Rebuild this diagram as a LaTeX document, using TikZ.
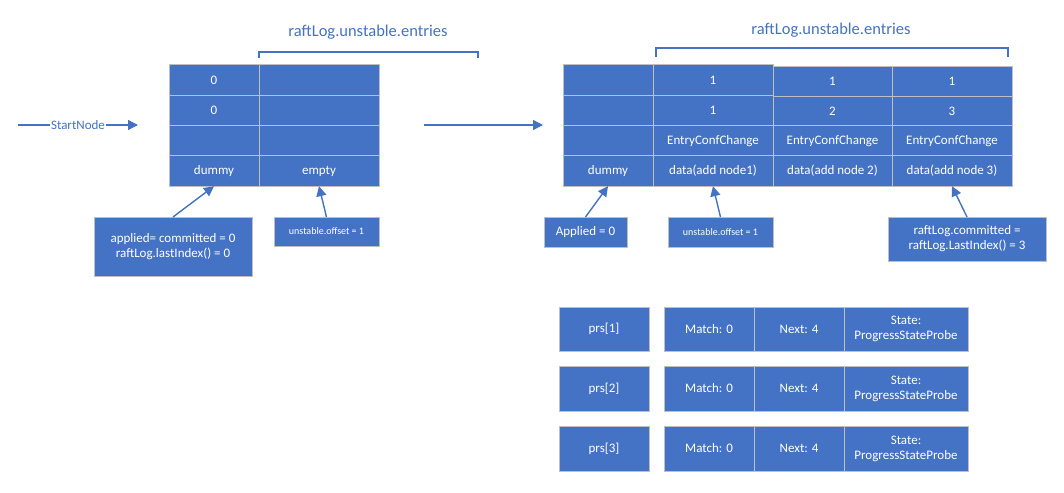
\documentclass[tikz,border=0pt]{standalone}
\usepackage{fontspec}
\setmainfont{Carlito}
\usetikzlibrary{arrows.meta}
\definecolor{oblue}{HTML}{4472C4}
\definecolor{ogray}{HTML}{BFBFBF}
\begin{document}
\begin{tikzpicture}[x=1pt,y=-1pt,
  cell/.style={draw=ogray,fill=oblue,line width=1pt,text=white,inner sep=0pt,outer sep=0pt,font=\fontsize{13}{15}\selectfont,align=center},
  arr/.style={draw=oblue,line width=1.4pt,-{Triangle[length=10pt,width=10pt]}},
  brk/.style={draw=oblue,line width=1.2pt},
  ttl/.style={text=oblue,font=\fontsize{16.5}{19}\selectfont},
  small/.style={font=\fontsize{10}{12}\selectfont}]
\useasboundingbox (0,0) rectangle (1064,492);
% ---------- left table ----------
\node[cell,minimum width=90pt,minimum height=30.3pt] (La1) at (214,80.15) {0};
\node[cell,minimum width=120pt,minimum height=30.3pt] (Lb1) at (319,80.15) {};
\node[cell,minimum width=90pt,minimum height=30.3pt] (La2) at (214,110.45) {0};
\node[cell,minimum width=120pt,minimum height=30.3pt] (Lb2) at (319,110.45) {};
\node[cell,minimum width=90pt,minimum height=30.3pt] (La3) at (214,140.75) {};
\node[cell,minimum width=120pt,minimum height=30.3pt] (Lb3) at (319,140.75) {};
\node[cell,minimum width=90pt,minimum height=30.3pt] (La4) at (214,171.05) {dummy};
\node[cell,minimum width=120pt,minimum height=30.3pt] (Lb4) at (319,171.05) {empty};
% bracket + title left
\coordinate (lb0) at (259,58); \coordinate (lb1) at (259,52);
\coordinate (lb2) at (478,52); \coordinate (lb3) at (478,58);
\draw[brk] (lb0) -- (lb1) -- (lb2) -- (lb3);
\node[ttl] (Ltitle) at (368,32) {raftLog.unstable.entries};
% info boxes left
\node[cell,minimum width=158pt,minimum height=59pt] (Lapp) at (173,246.5) {applied= committed = 0\\raftLog.lastIndex() = 0};
\node[cell,small,minimum width=105pt,minimum height=29pt] (Loff) at (326.5,231.5) {unstable.offset = 1};
\draw[arr] (Lapp.north) -- (La4.south);
\draw[arr] (Loff.north) -- (Lb4.south);
% StartNode arrow
\coordinate (sn0) at (18,125); \coordinate (sn1) at (138,125);
\draw[arr] (sn0) -- node[fill=white,inner sep=1pt,text=oblue,font=\fontsize{13}{15}\selectfont] (snlab) {StartNode} (sn1);
% middle arrow
\coordinate (m0) at (424,125); \coordinate (m1) at (543,125);
\draw[arr] (m0) -- (m1);
% ---------- right table ----------
\node[cell,minimum width=90pt,minimum height=30.3pt] (Ra1) at (608,80.15) {};
\node[cell,minimum width=120pt,minimum height=30.3pt] (Rb1) at (713,80.15) {1};
\node[cell,minimum width=119pt,minimum height=29.3pt] (Rc1) at (832.5,81.65) {1};
\node[cell,minimum width=120pt,minimum height=29.3pt] (Rd1) at (952,81.65) {1};
\node[cell,minimum width=90pt,minimum height=30.3pt] (Ra2) at (608,110.45) {};
\node[cell,minimum width=120pt,minimum height=30.3pt] (Rb2) at (713,110.45) {1};
\node[cell,minimum width=119pt,minimum height=29.7pt] (Rc2) at (832.5,111.15) {2};
\node[cell,minimum width=120pt,minimum height=29.7pt] (Rd2) at (952,111.15) {3};
\node[cell,minimum width=90pt,minimum height=30.3pt] (Ra3) at (608,140.75) {};
\node[cell,minimum width=120pt,minimum height=30.3pt] (Rb3) at (713,140.75) {EntryConfChange};
\node[cell,minimum width=119pt,minimum height=30.3pt] (Rc3) at (832.5,140.75) {EntryConfChange};
\node[cell,minimum width=120pt,minimum height=30.3pt] (Rd3) at (952,140.75) {EntryConfChange};
\node[cell,minimum width=90pt,minimum height=30.3pt] (Ra4) at (608,171.05) {dummy};
\node[cell,minimum width=120pt,minimum height=30.3pt] (Rb4) at (713,171.05) {data(add node1)};
\node[cell,minimum width=119pt,minimum height=30.3pt] (Rc4) at (832.5,171.05) {data(add node 2)};
\node[cell,minimum width=120pt,minimum height=30.3pt] (Rd4) at (952,171.05) {data(add node 3)};
% bracket + title right
\coordinate (rb0) at (656,57); \coordinate (rb1) at (656,48);
\coordinate (rb2) at (1008,48); \coordinate (rb3) at (1008,57);
\draw[brk] (rb0) -- (rb1) -- (rb2) -- (rb3);
\node[ttl] (Rtitle) at (831,30) {raftLog.unstable.entries};
% info boxes right
\node[cell,minimum width=83pt,minimum height=30pt] (Rapp) at (585.5,232) {Applied = 0};
\node[cell,small,minimum width=105pt,minimum height=30pt] (Roff) at (720.5,232) {unstable.offset = 1};
\node[cell,minimum width=158pt,minimum height=44pt] (Rcom) at (967,239) {raftLog.committed =\\raftLog.LastIndex() = 3};
\draw[arr] (Rapp.north) -- (Ra4.south);
\draw[arr] (Roff.north) -- (Rb4.south);
\draw[arr] (Rcom.north) -- (Rd4.south);
% ---------- progress rows ----------
\foreach \i/\yc/\h in {1/329/44,2/388.5/45,3/448.5/45}{
  \node[cell,minimum width=90pt,minimum height=\h pt] (prs\i) at (604,\yc) {prs[\i]};
  \node[cell,minimum width=90pt,minimum height=\h pt] (match\i) at (709,\yc) {Match: 0};
  \node[cell,minimum width=90pt,minimum height=\h pt] (next\i) at (799,\yc) {Next: 4};
  \node[cell,minimum width=124pt,minimum height=\h pt] (state\i) at (906,\yc) {State:\\ProgressStateProbe};
}
\end{tikzpicture}
\end{document}
